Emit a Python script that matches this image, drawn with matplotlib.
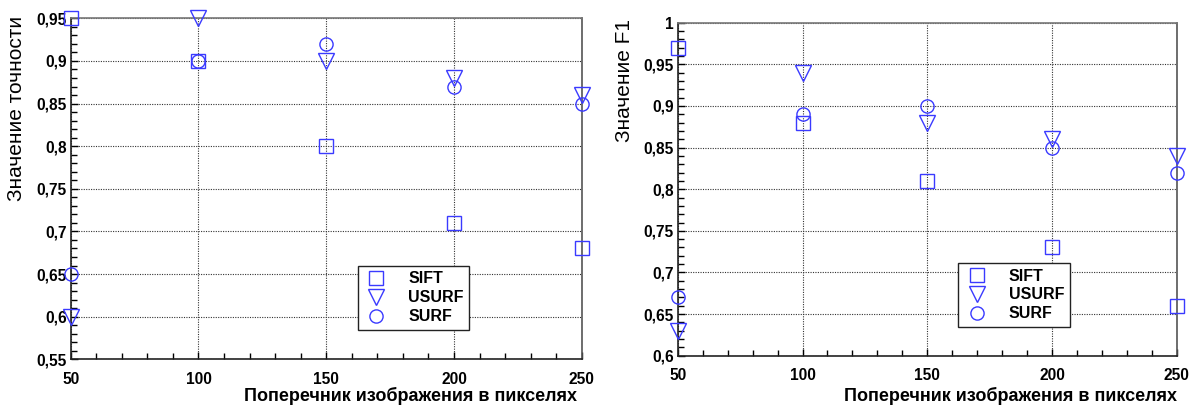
import matplotlib
matplotlib.use("Agg")
import matplotlib.pyplot as plt
from matplotlib.ticker import MultipleLocator, FixedLocator

plt.rcParams["font.family"] = ["Liberation Sans", "DejaVu Sans"]

sizes = [50, 100, 150, 200, 250]

# left panel: accuracy
acc_sift = [0.95, 0.90, 0.80, 0.71, 0.68]
acc_usurf = [0.60, 0.95, 0.90, 0.88, 0.86]
acc_surf = [0.65, 0.90, 0.92, 0.87, 0.85]
acc_ticks = [0.55, 0.60, 0.65, 0.70, 0.75, 0.80, 0.85, 0.90, 0.95]
acc_labels = ["0,55", "0,6", "0,65", "0,7", "0,75", "0,8", "0,85", "0,9", "0,95"]

# right panel: F1
f1_sift = [0.97, 0.88, 0.81, 0.73, 0.66]
f1_usurf = [0.63, 0.94, 0.88, 0.86, 0.84]
f1_surf = [0.67, 0.89, 0.90, 0.85, 0.82]
f1_ticks = [0.60, 0.65, 0.70, 0.75, 0.80, 0.85, 0.90, 0.95, 1.00]
f1_labels = ["0,6", "0,65", "0,7", "0,75", "0,8", "0,85", "0,9", "0,95", "1"]

BLUE = "#3a3aff"


def draw_panel(ax, sift, usurf, surf, yticks, ylabels):
    kw = dict(ls="none", mfc="none", mec=BLUE, mew=1.0, clip_on=False, zorder=5)
    ax.plot(sizes, sift, marker="s", ms=10, label="SIFT", **kw)
    ax.plot(sizes, usurf, marker="v", ms=11, label="USURF", **kw)
    ax.plot(sizes, surf, marker="o", ms=9.5, label="SURF", **kw)

    ax.set_xlim(50, 250)
    ax.set_ylim(yticks[0], yticks[-1])
    ax.xaxis.set_major_locator(FixedLocator(sizes))
    ax.xaxis.set_minor_locator(MultipleLocator(10))
    ax.yaxis.set_major_locator(FixedLocator(yticks))
    ax.yaxis.set_minor_locator(MultipleLocator(0.01))
    ax.set_yticklabels(ylabels, fontsize=11.2, fontweight="bold")
    ax.set_xticklabels([str(s) for s in sizes], fontsize=11.2, fontweight="bold")
    ax.tick_params(which="both", direction="in", top=False, right=False, width=1)
    ax.tick_params(which="major", length=5)
    ax.tick_params(which="minor", length=4)
    ax.tick_params(axis="x", pad=9)
    ax.tick_params(axis="y", pad=3)

    ax.grid(True, which="major", ls=(0, (1, 1.2)), color="#333333", lw=0.8)
    ax.spines["left"].set_color("#222222")
    ax.spines["bottom"].set_color("#222222")
    ax.spines["top"].set_color("#777777")
    ax.spines["right"].set_color("#555555")
    for s in ax.spines.values():
        s.set_linewidth(1.2)

    leg = ax.legend(loc="lower left", bbox_to_anchor=(0.562, 0.086),
                    borderaxespad=0, fancybox=False, framealpha=1,
                    edgecolor="#222222", prop={"weight": "bold", "size": 11.5},
                    handletextpad=1.2, labelspacing=0.25, borderpad=0.35,
                    handlelength=1.6)
    leg.get_frame().set_linewidth(1.0)
    leg.set_zorder(10)


fig = plt.figure(figsize=(11.93, 4.07), dpi=100)
ax1 = fig.add_axes([0.0593, 0.1172, 0.4283, 0.8378])
ax2 = fig.add_axes([0.5681, 0.1260, 0.4183, 0.8182])

draw_panel(ax1, acc_sift, acc_usurf, acc_surf, acc_ticks, acc_labels)
draw_panel(ax2, f1_sift, f1_usurf, f1_surf, f1_ticks, f1_labels)

fig.text(17 / 1193, 1 - 108 / 407, "Значение точности", rotation=90,
         ha="center", va="center", fontsize=15, fontweight="medium")
fig.text(625 / 1193, 1 - 80 / 407, "Значение F1", rotation=90,
         ha="center", va="center", fontsize=15, fontweight="medium")
fig.text(410 / 1193, 1 - 396 / 407, "Поперечник изображения в пикселях",
         ha="center", va="center", fontsize=13, fontweight="bold")
fig.text(1010 / 1193, 1 - 396 / 407, "Поперечник изображения в пикселях",
         ha="center", va="center", fontsize=13, fontweight="bold")

fig.savefig("out.png", dpi=100)
